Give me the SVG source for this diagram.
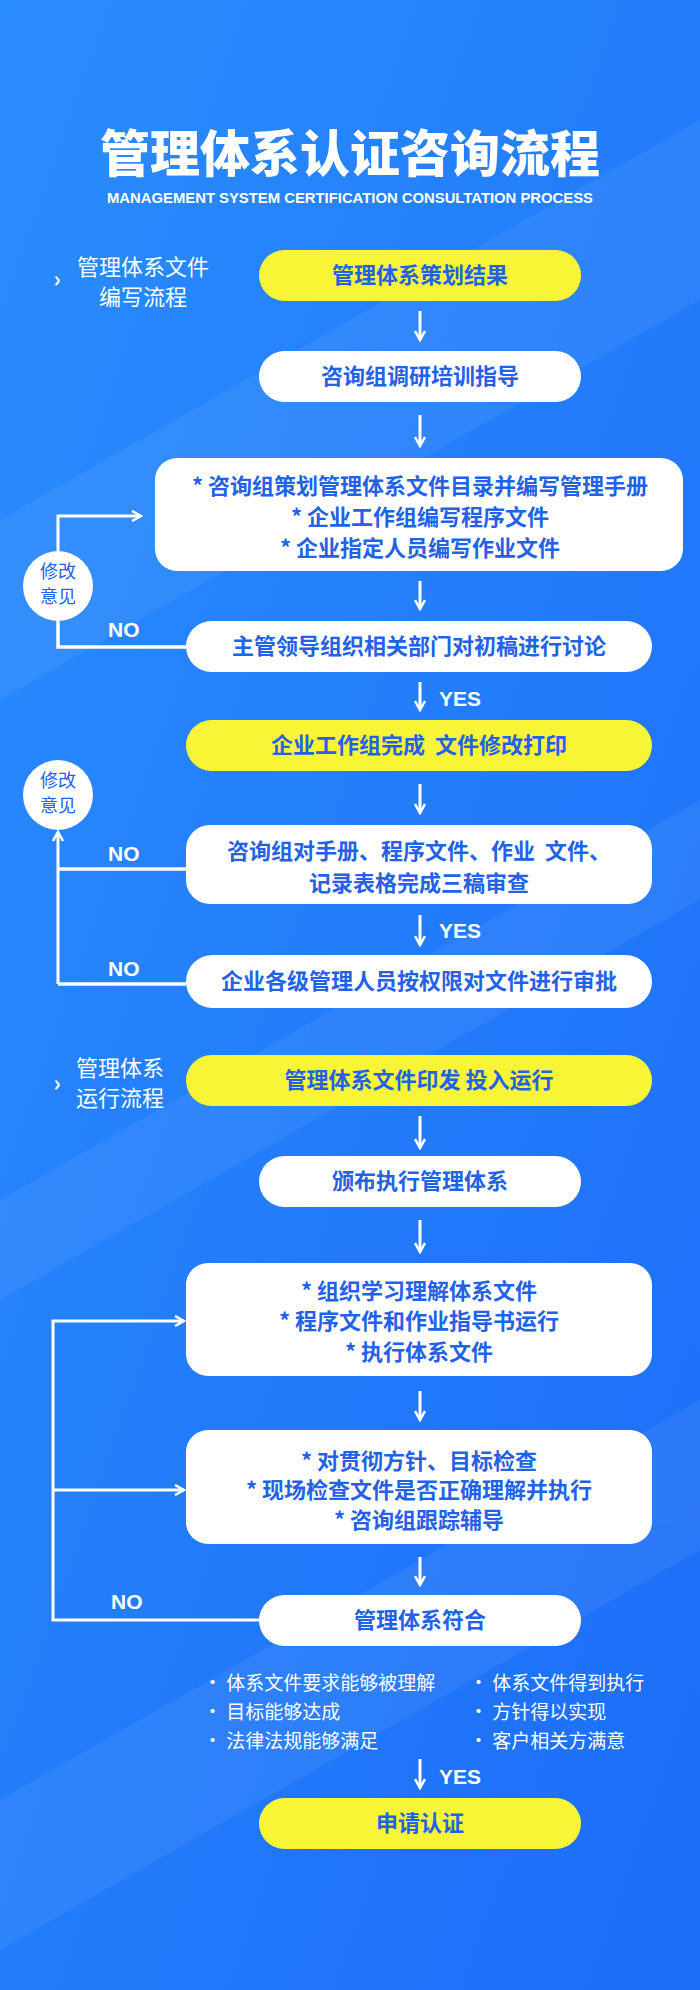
<svg xmlns="http://www.w3.org/2000/svg" width="700" height="1990" viewBox="0 0 700 1990">
<defs>
<linearGradient id="bg" x1="0" y1="0" x2="1" y2="1">
<stop offset="0" stop-color="#2a8dfd"/><stop offset="1" stop-color="#1c6cf8"/>
</linearGradient>
<marker id="ah" viewBox="0 0 12 12" refX="10" refY="6" markerWidth="12" markerHeight="12" markerUnits="userSpaceOnUse" orient="auto">
<path d="M1,1 L10,6 L1,11" fill="none" stroke="#fff" stroke-width="2.5"/>
</marker>
<style>
.n{font-family:"Noto Sans CJK SC","Liberation Sans",sans-serif;font-weight:700;font-size:22px;fill:#2361e6;text-anchor:middle}
.w{fill:#fff}.y{fill:#f8f436}
.c{stroke:#fff;stroke-width:3.5;fill:none}
.a{stroke:#fff;stroke-width:3;fill:none;marker-end:url(#ah)}
.lb{font-family:"Noto Sans CJK SC",sans-serif;font-size:22px;fill:#fff;text-anchor:middle}
.yn{font-family:"Liberation Sans",sans-serif;font-weight:700;font-size:21px;fill:#fff}
.bl{font-family:"Noto Sans CJK SC",sans-serif;font-size:19px;fill:#fff}
.ci{font-family:"Noto Sans CJK SC",sans-serif;font-size:18px;fill:#2361e6;text-anchor:middle}
</style>
</defs>
<rect width="700" height="1990" fill="url(#bg)"/>
<g opacity="0.06" fill="#fff"><polygon points="0,520 700,120 700,300 0,700"/><polygon points="0,1200 700,800 700,900 0,1300"/><polygon points="0,1800 700,1400 700,1550 0,1950"/></g>
<g id="title">
<text x="350" y="172" font-family="Noto Sans CJK SC,sans-serif" font-weight="900" font-size="50" fill="#fff" text-anchor="middle">管理体系认证咨询流程</text>
<text x="350" y="203" font-family="Liberation Sans,sans-serif" font-weight="700" font-size="14" fill="#fff" text-anchor="middle" textLength="486" lengthAdjust="spacingAndGlyphs">MANAGEMENT SYSTEM CERTIFICATION CONSULTATION PROCESS</text>
</g>
<g id="labels">
<text x="57" y="287" class="lb" font-weight="700">›</text>
<text x="143" y="275" class="lb">管理体系文件</text><text x="143" y="305" class="lb">编写流程</text>
<text x="57" y="1091" class="lb" font-weight="700">›</text>
<text x="120" y="1076" class="lb">管理体系</text><text x="120" y="1106" class="lb">运行流程</text>
</g>
<g id="connectors">
<line x1="420" y1="311" x2="420" y2="340" class="a"/>
<line x1="420" y1="415" x2="420" y2="446" class="a"/>
<line x1="420" y1="581" x2="420" y2="609" class="a"/>
<line x1="420" y1="682" x2="420" y2="710" class="a"/>
<line x1="420" y1="784" x2="420" y2="813" class="a"/>
<line x1="420" y1="915" x2="420" y2="945" class="a"/>
<line x1="420" y1="1116" x2="420" y2="1148" class="a"/>
<line x1="420" y1="1220" x2="420" y2="1252" class="a"/>
<line x1="420" y1="1391" x2="420" y2="1420" class="a"/>
<line x1="420" y1="1557" x2="420" y2="1585" class="a"/>
<line x1="420" y1="1759" x2="420" y2="1788" class="a"/>
<polyline points="58,551 58,516 141,516" class="a"/>
<polyline points="58,621 58,647 186,647" class="c"/>
<polyline points="58,984 58,832" class="a"/>
<polyline points="58,869 186,869" class="c"/>
<polyline points="58,984 186,984" class="c"/>
<polyline points="259,1620 53,1620 53,1321 184,1321" class="a"/>
<line x1="53" y1="1490" x2="184" y2="1490" class="a"/>
<text x="108" y="637" class="yn">NO</text>
<text x="439" y="706" class="yn">YES</text>
<text x="108" y="861" class="yn">NO</text>
<text x="439" y="938" class="yn">YES</text>
<text x="108" y="976" class="yn">NO</text>
<text x="111" y="1609" class="yn">NO</text>
<text x="439" y="1784" class="yn">YES</text>
</g>
<g id="c1"><circle cx="58" cy="586" r="35" fill="#fff"/><text x="58" y="578" class="ci">修改</text><text x="58" y="603" class="ci">意见</text></g>
<g id="c2"><circle cx="58" cy="795" r="35" fill="#fff"/><text x="58" y="787" class="ci">修改</text><text x="58" y="812" class="ci">意见</text></g>
<g id="n1"><rect x="259" y="250" width="322" height="51" rx="25.5" class="y"/><text x="420" y="283" class="n">管理体系策划结果</text></g>
<g id="n2"><rect x="259" y="351" width="322" height="51" rx="25.5" class="w"/><text x="420" y="384" class="n">咨询组调研培训指导</text></g>
<g id="n3"><rect x="155" y="458" width="528" height="113" rx="22" class="w"/>
<text x="420" y="494" class="n">* 咨询组策划管理体系文件目录并编写管理手册</text>
<text x="420" y="525" class="n">* 企业工作组编写程序文件</text>
<text x="420" y="556" class="n">* 企业指定人员编写作业文件</text></g>
<g id="n4"><rect x="186" y="621" width="466" height="51" rx="25.5" class="w"/><text x="419" y="654" class="n">主管领导组织相关部门对初稿进行讨论</text></g>
<g id="n5"><rect x="186" y="720" width="466" height="51" rx="25.5" class="y"/><text x="419" y="753" class="n" xml:space="preserve">企业工作组完成  文件修改打印</text></g>
<g id="n6"><rect x="186" y="825" width="466" height="79" rx="24" class="w"/>
<text x="419" y="859" class="n" xml:space="preserve">咨询组对手册、程序文件、作业  文件、</text>
<text x="419" y="891" class="n">记录表格完成三稿审查</text></g>
<g id="n7"><rect x="186" y="955" width="466" height="53" rx="26.5" class="w"/><text x="419" y="989" class="n">企业各级管理人员按权限对文件进行审批</text></g>
<g id="n8"><rect x="186" y="1055" width="466" height="51" rx="25.5" class="y"/><text x="419" y="1088" class="n">管理体系文件印发 投入运行</text></g>
<g id="n9"><rect x="259" y="1156" width="322" height="51" rx="25.5" class="w"/><text x="420" y="1189" class="n">颁布执行管理体系</text></g>
<g id="n10"><rect x="186" y="1263" width="466" height="113" rx="22" class="w"/>
<text x="419" y="1299" class="n">*  组织学习理解体系文件</text>
<text x="419" y="1329" class="n">*  程序文件和作业指导书运行</text>
<text x="419" y="1360" class="n">*  执行体系文件</text></g>
<g id="n11"><rect x="186" y="1430" width="466" height="114" rx="22" class="w"/>
<text x="419" y="1469" class="n">*  对贯彻方针、目标检查</text>
<text x="419" y="1498" class="n">*  现场检查文件是否正确理解并执行</text>
<text x="419" y="1528" class="n">* 咨询组跟踪辅导</text></g>
<g id="n12"><rect x="259" y="1595" width="322" height="51" rx="25.5" class="w"/><text x="420" y="1628" class="n">管理体系符合</text></g>
<g id="notes">
<text x="203" y="1690" class="bl">• 体系文件要求能够被理解</text>
<text x="203" y="1719" class="bl">• 目标能够达成</text>
<text x="203" y="1748" class="bl">• 法律法规能够满足</text>
<text x="469" y="1690" class="bl">• 体系文件得到执行</text>
<text x="469" y="1719" class="bl">• 方针得以实现</text>
<text x="469" y="1748" class="bl">• 客户相关方满意</text>
</g>
<g id="n13"><rect x="259" y="1798" width="322" height="51" rx="25.5" class="y"/><text x="420" y="1831" class="n">申请认证</text></g>
</svg>
